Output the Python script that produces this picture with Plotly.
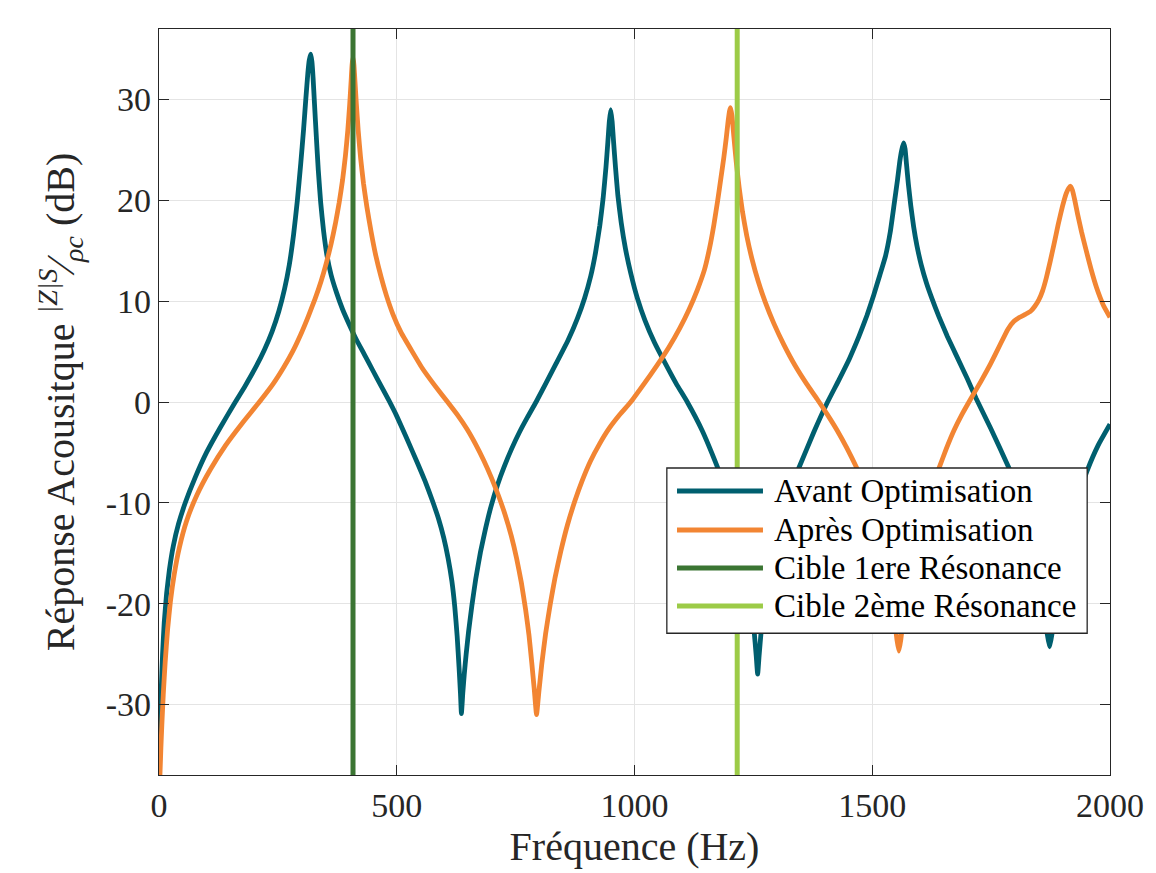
import plotly.graph_objects as go

# ---------------- data ----------------
freq_avant = [1, 2.5, 4.5, 7.5, 11, 16, 22, 30, 41, 56,
              76, 100, 128, 158, 180, 204, 222, 238, 252, 264,
              274, 283, 291, 298, 304, 309, 313, 316, 319, 321.5,
              324, 327, 331, 335, 340, 346, 353, 362, 373, 386,
              400, 415, 432, 450, 467, 484, 500, 520, 544, 560,
              575, 588, 599, 608, 616, 622, 627, 631, 634, 636,
              639, 642, 646, 651, 658, 666, 676, 687, 698, 712,
              726, 742, 758, 775, 793, 835, 860, 880, 895, 908,
              918, 927, 934, 940, 944, 947, 950, 953, 956, 960,
              965, 972, 981, 992, 1006, 1022, 1042, 1065, 1088, 1111,
              1142, 1174, 1195, 1212, 1226, 1237, 1245, 1251, 1256, 1259,
              1262, 1267, 1273, 1281, 1292, 1306, 1323, 1346, 1377, 1405,
              1430, 1452, 1472, 1489, 1503, 1516, 1528, 1538, 1546, 1553,
              1558, 1562, 1566, 1569, 1572, 1576, 1581, 1587, 1594, 1603,
              1614, 1626, 1640, 1658, 1679, 1700, 1718, 1749, 1788, 1810,
              1828, 1843, 1854, 1862, 1868, 1873, 1878, 1884, 1892, 1903,
              1918, 1935, 1952, 1975, 2000]
db_avant = [-36.5, -32.5, -28.8, -25, -21.9, -19, -16.6, -14.3, -12.1, -9.9,
            -7.5, -5.0, -2.6, -0.2, 1.5, 3.5, 5.2, 7.0, 9.0, 11.2,
            13.6, 16.6, 20.0, 23.6, 27.0, 30.2, 32.6, 33.9, 34.5, 33.8,
            32.2, 29.6, 26.2, 23.0, 19.8, 17.0, 14.6, 12.6, 10.9, 9.2,
            7.7, 6.2, 4.7, 3.1, 1.6, 0.1, -1.4, -3.5, -6.1, -7.9,
            -9.8, -11.6, -13.5, -15.5, -17.8, -20.3, -23.2, -26.3, -28.9, -30.9,
            -28.8, -27, -25, -22.8, -20.2, -17.6, -14.9, -12.5, -10.4, -8.2,
            -6.4, -4.6, -3.0, -1.5, 0, 3.8, 6.1, 8.3, 10.3, 12.5,
            14.8, 17.5, 20.2, 23.3, 25.8, 27.8, 29.0, 27.8, 25.8, 23.3,
            20.5, 17.8, 15.2, 12.8, 10.3, 8.1, 5.9, 3.8, 1.8, 0,
            -2.8, -6.4, -9.0, -11.4, -14.0, -16.8, -19.6, -22.4, -25.2, -27.0,
            -25.2, -22.4, -19.6, -16.8, -14.0, -11.4, -9.0, -6.5, -3.0, -0.1,
            2.2, 4.3, 6.5, 8.6, 10.6, 12.6, 14.5, 16.9, 19.6, 22.0,
            23.9, 25.0, 25.7, 25.1, 23.6, 21.6, 19.5, 17.4, 15.5, 13.6,
            11.8, 10.2, 8.5, 6.5, 4.4, 2.3, 0.4, -2.6, -6.6, -9.1,
            -11.8, -14.8, -17.8, -20.7, -23, -24.3, -23, -20.7, -17.8, -14.8,
            -11.8, -9.1, -6.8, -4.3, -2.2]

freq_apres = [2, 4, 6, 9, 13, 18, 24, 32, 43, 58,
              80, 108, 140, 175, 211, 240, 263, 282, 299, 314,
              328, 341, 352, 362, 371, 379, 386, 392, 397, 401,
              404, 406, 408, 410, 412, 415, 419, 424, 430, 437,
              446, 456, 467, 478, 492, 509, 530, 553, 579, 607,
              628, 648, 666, 683, 699, 714, 728, 741, 752, 762,
              771, 778, 784, 789, 794, 799, 805, 813, 823, 833,
              845, 859, 874, 890, 907, 926, 947, 970, 992, 1020,
              1047, 1072, 1095, 1115, 1132, 1147, 1158, 1167, 1175, 1182,
              1188, 1193, 1197, 1200, 1202, 1205, 1209, 1214, 1220, 1227,
              1236, 1247, 1260, 1275, 1293, 1314, 1338, 1362, 1384, 1405,
              1426, 1447, 1468, 1490, 1509, 1524, 1535, 1543, 1548, 1552,
              1556, 1560, 1564, 1569, 1577, 1588, 1603, 1621, 1640, 1656,
              1672, 1689, 1707, 1728, 1749, 1768, 1785, 1798, 1810, 1822,
              1833, 1842, 1850, 1858, 1866, 1874, 1882, 1891, 1900, 1908,
              1913, 1917, 1921, 1926, 1932, 1940, 1949, 1960, 1972, 1986,
              2000]
db_apres = [-37, -34.3, -32, -29, -25.8, -22.6, -19.8, -17.1, -14.4, -11.8,
            -9.2, -6.7, -4.3, -2.1, 0, 1.8, 3.5, 5.1, 6.8, 8.5,
            10.2, 12.0, 13.8, 15.7, 17.7, 19.8, 22.0, 24.4, 26.9, 29.5,
            31.8, 33.4, 34.2, 33.4, 31.9, 29.6, 26.9, 24.2, 21.7, 19.4,
            16.9, 14.5, 12.4, 10.6, 8.7, 6.9, 5.2, 3.4, 1.7, 0,
            -1.3, -2.7, -4.2, -5.8, -7.5, -9.3, -11.2, -13.3, -15.5, -17.9,
            -20.6, -23.1, -25.9, -28.4, -31.0, -28.7, -26.0, -23.0, -20.0, -17.4,
            -14.8, -12.2, -9.9, -7.8, -5.9, -4.2, -2.6, -1.2, 0, 1.8,
            3.6, 5.4, 7.3, 9.2, 11.1, 13.1, 15.3, 17.6, 20.0, 22.3,
            24.3, 26.2, 27.9, 28.9, 29.2, 28.4, 26.3, 23.8, 21.3, 18.9,
            16.5, 14.2, 12.0, 9.9, 7.8, 5.7, 3.6, 1.8, 0.3, -1.2,
            -2.8, -4.6, -6.6, -8.9, -11.5, -14.4, -17.3, -20.0, -22.0, -23.6,
            -24.7, -23.6, -22.0, -20.0, -17.3, -14.4, -11.5, -8.9, -6.6, -4.6,
            -2.8, -1.2, 0.3, 2.0, 3.8, 5.6, 7.2, 8.0, 8.4, 8.7,
            9.0, 9.5, 10.1, 11.0, 12.3, 13.9, 15.6, 17.6, 19.4, 20.7,
            21.2, 21.4, 21.0, 20.0, 18.6, 16.9, 15.2, 13.2, 11.3, 9.6,
            8.4]

cible_1 = 408      # Hz, target 1st resonance
cible_2 = 1216     # Hz, target 2nd resonance

x_range = [0, 2000]
y_range = [-37, 37]
x_ticks = [0, 500, 1000, 1500, 2000]
y_ticks = [-30, -20, -10, 0, 10, 20, 30]
y_tick_text = ["-30", "-20", "-10", "0", "10", "20", "30"]

names = ["Avant Optimisation", "Après Optimisation",
         "Cible 1ere Résonance", "Cible 2ème Résonance"]
colors = ["#005f6f", "#f28533", "#3b7533", "#9ccb47"]

FONT = "Liberation Serif"
INK = "#262626"

# ---------------- figure ----------------
fig = go.Figure()
fig.add_trace(go.Scatter(x=freq_avant, y=db_avant, mode="lines", name=names[0],
                         line=dict(color=colors[0], width=4.8, shape="spline", smoothing=0.4),
                         showlegend=False))
fig.add_trace(go.Scatter(x=freq_apres, y=db_apres, mode="lines", name=names[1],
                         line=dict(color=colors[1], width=4.8, shape="spline", smoothing=0.4),
                         showlegend=False))
fig.add_trace(go.Scatter(x=[cible_1, cible_1], y=y_range, mode="lines", name=names[2],
                         line=dict(color=colors[2], width=5), showlegend=False))
fig.add_trace(go.Scatter(x=[cible_2, cible_2], y=y_range, mode="lines", name=names[3],
                         line=dict(color=colors[3], width=5), showlegend=False))

# ---------------- legend box (MATLAB style, drawn in paper coords) ----------------
lx0, lx1, ly0, ly1 = 0.534, 0.976, 0.190, 0.4115
shapes = [dict(type="rect", xref="paper", yref="paper", x0=lx0, x1=lx1, y0=ly0, y1=ly1,
               fillcolor="white", line=dict(color=INK, width=1.3), layer="above")]
annotations = []
row_y = [0.3807, 0.3284, 0.2775, 0.2265]
for name, col, ry in zip(names, colors, row_y):
    shapes.append(dict(type="line", xref="paper", yref="paper", x0=0.5447, x1=0.6351,
                       y0=ry, y1=ry, line=dict(color=col, width=5), layer="above"))
    annotations.append(dict(xref="paper", yref="paper", x=0.6446, y=ry, text=name,
                            showarrow=False, xanchor="left", yanchor="middle",
                            font=dict(family=FONT, size=33, color="black")))

axis_common = dict(showline=True, linecolor=INK, linewidth=1.3, mirror="allticks",
                   ticks="inside", ticklen=10, tickwidth=1.3, tickcolor=INK,
                   showgrid=True, gridcolor="#e4e4e4", gridwidth=1, zeroline=False,
                   tickfont=dict(family=FONT, size=34, color=INK))

# page body has an 8px default margin: size/margins compensate so the plot area
# lands at x 159..1110, y 29..775 of the window
fig.update_layout(
    width=1148, height=865,
    margin=dict(l=151, r=46, t=21, b=98),
    paper_bgcolor="white", plot_bgcolor="white",
    shapes=shapes, annotations=annotations,
    xaxis=dict(range=x_range, tickvals=x_ticks, ticktext=[str(t) for t in x_ticks],
               title=dict(text="Fréquence (Hz)", standoff=8,
                          font=dict(family=FONT, size=40, color=INK)),
               **axis_common),
    yaxis=dict(range=y_range, tickvals=y_ticks, ticktext=y_tick_text,
               title=dict(text="Réponse Acousitque <sup><i>|Z|S</i></sup>⁄<sub><i>ρc</i></sub> (dB)",
                          standoff=18, font=dict(family=FONT, size=40, color=INK)),
               **axis_common),
)

fig.write_html("out.html")
